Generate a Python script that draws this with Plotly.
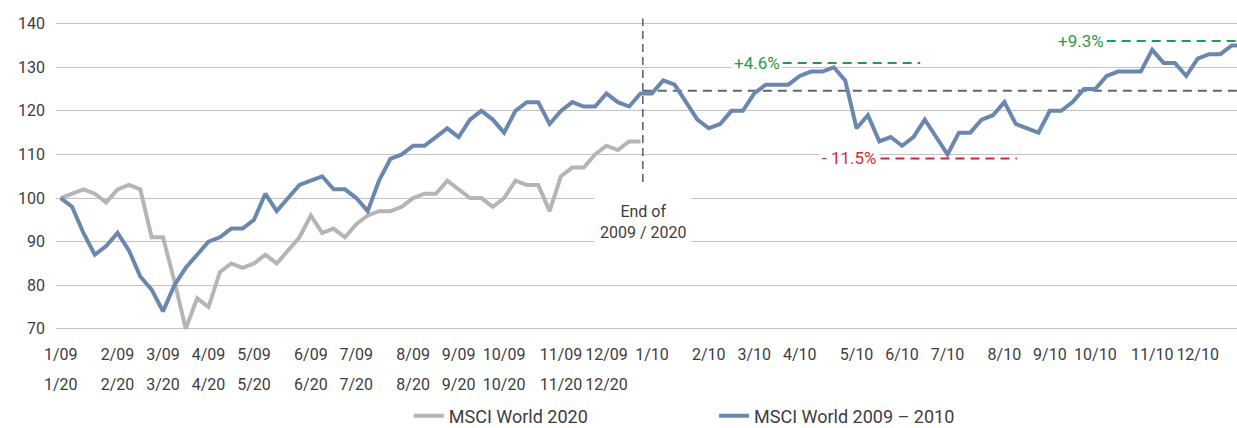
import plotly.graph_objects as go

# ---------------- data ----------------
msci_2009_2010 = [100, 98, 92, 87, 89, 92, 88, 82, 79, 74,
                  80, 84, 87, 90, 91, 93, 93, 95, 101, 97,
                  100, 103, 104, 105, 102, 102, 100, 97, 104, 109,
                  110, 112, 112, 114, 116, 114, 118, 120, 118, 115,
                  120, 122, 122, 117, 120, 122, 121, 121, 124, 122,
                  121, 124, 124, 127, 126, 122, 118, 116, 117, 120,
                  120, 124, 126, 126, 126, 128, 129, 129, 130, 127,
                  116, 119, 113, 114, 112, 114, 118, 114, 110, 115,
                  115, 118, 119, 122, 117, 116, 115, 120, 120, 122,
                  125, 125, 128, 129, 129, 129, 134, 131, 131, 128,
                  132, 133, 133, 135, 135]

msci_2020 = [100, 101, 102, 101, 99, 102, 103, 102, 91, 91,
             81, 70, 77, 75, 83, 85, 84, 85, 87, 85,
             88, 91, 96, 92, 93, 91, 94, 96, 97, 97,
             98, 100, 101, 101, 104, 102, 100, 100, 98, 100,
             104, 103, 103, 97, 105, 107, 107, 110, 112, 111,
             113, 113]

tick_weeks = [0, 5, 9, 13, 17, 22, 26, 31, 35, 39, 44, 48,
              52, 57, 61, 65, 70, 74, 78, 83, 87, 91, 96, 100]
labels_2009_2010 = ["1/09", "2/09", "3/09", "4/09", "5/09", "6/09", "7/09", "8/09",
                    "9/09", "10/09", "11/09", "12/09",
                    "1/10", "2/10", "3/10", "4/10", "5/10", "6/10", "7/10", "8/10",
                    "9/10", "10/10", "11/10", "12/10"]
labels_2020 = ["1/20", "2/20", "3/20", "4/20", "5/20", "6/20", "7/20", "8/20",
               "9/20", "10/20", "11/20", "12/20"]

series_names = ["MSCI World 2020", "MSCI World 2009 – 2010"]

ref_level = 124.6      # level at end of 2009
peak1_level = 131.0    # +4.6%
trough_level = 109.1   # -11.5%
peak2_level = 136.0    # +9.3%
labels_pct = ["+4.6%", "- 11.5%", "+9.3%"]

# ---------------- style ----------------
FONT = "Roboto, 'Open Sans', sans-serif"
TXT = "#3d3d3d"
BLUE = "#6a87b0"
GREY = "#b5b5b5"
GRID = "#c2c2c2"
DASHGREY = "#5f6671"
GREEN = "#1f9d48"
RED = "#d7283a"

weeks_blue = list(range(len(msci_2009_2010)))
weeks_grey = list(range(len(msci_2020)))

fig = go.Figure()
fig.add_trace(go.Scatter(x=weeks_grey, y=msci_2020, mode="lines", name=series_names[0],
                         line=dict(color=GREY, width=4), legend="legend"))
fig.add_trace(go.Scatter(x=weeks_blue, y=msci_2009_2010, mode="lines", name=series_names[1],
                         line=dict(color=BLUE, width=4), legend="legend2"))
# carrier trace so that the second (2020) label row is rendered
fig.add_trace(go.Scatter(x=weeks_grey, y=msci_2020, xaxis="x2", yaxis="y", mode="lines",
                         line=dict(width=0, color="rgba(0,0,0,0)"), showlegend=False,
                         hoverinfo="skip"))

XR = [-0.413, 103.46]
x_end09 = 51.2

shapes = [
    dict(type="line", xref="x", yref="y", x0=x_end09, x1=x_end09, y0=103.7, y1=141.2,
         line=dict(color=DASHGREY, width=1.6, dash="8px,5px"), layer="between"),
    dict(type="line", xref="x", yref="y", x0=x_end09, x1=XR[1], y0=ref_level, y1=ref_level,
         line=dict(color=DASHGREY, width=2, dash="9px,6px"), layer="between"),
    dict(type="line", xref="x", yref="y", x0=63.5, x1=75.6, y0=peak1_level, y1=peak1_level,
         line=dict(color=GREEN, width=2, dash="9px,6px"), layer="between"),
    dict(type="line", xref="x", yref="y", x0=72.1, x1=84.1, y0=trough_level, y1=trough_level,
         line=dict(color=RED, width=2, dash="9px,6px"), layer="between"),
    dict(type="line", xref="x", yref="y", x0=92.0, x1=XR[1], y0=peak2_level, y1=peak2_level,
         line=dict(color=GREEN, width=2, dash="9px,6px"), layer="between"),
]

annotations = [
    dict(x=x_end09, y=94.6, xref="x", yref="y", text="End of<br>2009 / 2020",
         showarrow=False, xanchor="center", yanchor="middle",
         font=dict(family=FONT, size=16, color=TXT), bgcolor="white", borderpad=5),
    dict(x=63.5, y=peak1_level, xref="x", yref="y", text=labels_pct[0], showarrow=False,
         xanchor="right", yanchor="middle", font=dict(family=FONT, size=17, color=GREEN),
         bgcolor="white", borderpad=2),
    dict(x=72.1, y=trough_level, xref="x", yref="y", text=labels_pct[1], showarrow=False,
         xanchor="right", yanchor="middle", font=dict(family=FONT, size=17, color=RED),
         bgcolor="white", borderpad=2),
    dict(x=92.0, y=peak2_level, xref="x", yref="y", text=labels_pct[2], showarrow=False,
         xanchor="right", yanchor="middle", font=dict(family=FONT, size=17, color=GREEN),
         bgcolor="white", borderpad=2),
]

B = 66.7
H = 428 - 18 - B
d = 1 - 313.3 / H
leg_y = (428 - B - 416.5) / H

fig.update_layout(
    width=1237, height=428,
    margin=dict(l=56, r=0, t=18, b=B, autoexpand=False),
    paper_bgcolor="white", plot_bgcolor="white",
    font=dict(family=FONT, color=TXT, size=16),
    shapes=shapes, annotations=annotations,
    xaxis=dict(range=XR, tickmode="array", tickvals=tick_weeks, ticktext=labels_2009_2010,
               showgrid=False, zeroline=False, showline=False, ticks="",
               ticklabelstandoff=12, tickfont=dict(family=FONT, size=16, color=TXT)),
    xaxis2=dict(range=XR, overlaying="x", anchor="free", position=0, side="bottom",
                tickmode="array", tickvals=tick_weeks[:12], ticktext=labels_2020,
                showgrid=False, zeroline=False, showline=False, ticks="",
                ticklabelstandoff=12, tickfont=dict(family=FONT, size=16, color=TXT)),
    yaxis=dict(range=[69.5, 141.3], domain=[d, 1], tickvals=[70, 80, 90, 100, 110, 120, 130, 140],
               showgrid=True, gridcolor=GRID, gridwidth=1.3, zeroline=False, showline=False,
               ticks="", ticklabelstandoff=10, tickfont=dict(family=FONT, size=16, color=TXT)),
    legend=dict(orientation="h", x=0.2987, y=leg_y, xanchor="left", yanchor="middle",
                font=dict(family=FONT, size=18, color=TXT), bgcolor="rgba(0,0,0,0)"),
    legend2=dict(orientation="h", x=0.5572, y=leg_y, xanchor="left", yanchor="middle",
                 font=dict(family=FONT, size=18, color=TXT), bgcolor="rgba(0,0,0,0)"),
    showlegend=True,
)

fig.write_html("out.html")
